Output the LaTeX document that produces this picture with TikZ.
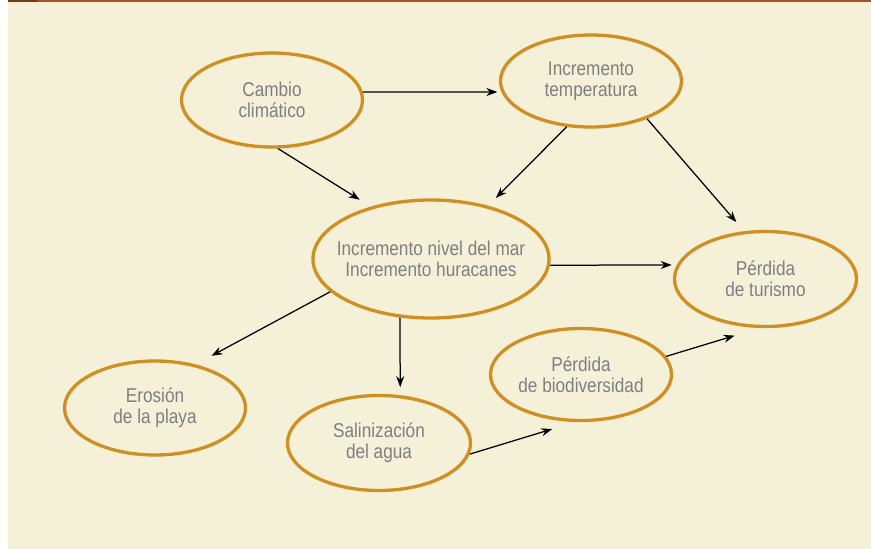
\documentclass[tikz,border=0pt]{standalone}
\usepackage{fontspec}
\setmainfont[FakeStretch=0.86]{Liberation Sans}
\usepackage{xcolor}
\usepackage{tikz}
\usetikzlibrary{shapes.geometric,arrows.meta}
\definecolor{cream}{HTML}{F5F0D8}
\definecolor{rust}{HTML}{A84F2A}
\definecolor{darkrust}{HTML}{6E3B1C}
\definecolor{gold}{HTML}{CF8F22}
\definecolor{txtgray}{HTML}{7F7F7F}
\newcommand*{\picW}{871}
\newcommand*{\picH}{549}
\tikzset{
  bubble/.style={ellipse,draw=gold,line width=3.3pt,minimum width=181pt,
    minimum height=94pt,inner sep=0pt,align=center,text=txtgray,
    font=\fontsize{20}{21}\selectfont},
  link/.style={-{Stealth[length=11pt,width=8pt]},line width=1.25pt,black}
}
\begin{document}
\begin{tikzpicture}[x=1pt,y=-1pt]
    \useasboundingbox (0,0) rectangle (\picW,\picH);
    \fill [white] (0,0) rectangle (\picW,\picH);
    \fill [cream] (8,0) rectangle (\picW,\picH);
    \fill [rust] (8,0) rectangle (\picW,2.2);
    \fill [darkrust] (8,0) rectangle (37,2.2);

    \node [bubble] (cc) at (272,100) {Cambio\\climático};
    \node [bubble,minimum height=92pt] (ti) at (591,81) {Incremento\\temperatura};
    \node [bubble,inner xsep=-12pt,minimum width=236pt,minimum height=118pt] (nm) at (431,259)
      {Incremento nivel del mar\\Incremento huracanes};
    \node [bubble,minimum width=182pt,minimum height=95pt] (pt) at (765.5,279) {Pérdida\\de turismo};
    \node [bubble] (ep) at (155,408) {Erosión\\de la playa};
    \node [bubble,minimum width=183pt,minimum height=95pt] (sa) at (379,443) {Salinización\\del agua};
    \node [bubble,minimum height=92pt] (pb) at (581,374.5) {Pérdida\\de biodiversidad};

    \draw [link,shorten >=4pt] (cc.5) -- (ti.187);
    \draw [link,shorten >=13pt] (cc.-83) -- (nm.139);
    \draw [link,shorten >=11pt] (ti.242) -- (nm.43);
    \draw [link,shorten >=12pt] (ti.-34) -- (pt.114);
    \draw [link,shorten >=5pt] (nm.-3) -- (pt.171);
    \draw [link,shorten >=18pt] (nm.198) -- (ep.47);
    \draw [link,shorten >=8pt] (nm.242) -- (sa.66);
    \draw [link,shorten >=24pt] (sa.-7) -- (pb.263);
    \draw [link,shorten >=26pt] (pb.12) -- (pt.263);
  \end{tikzpicture}
\end{document}
